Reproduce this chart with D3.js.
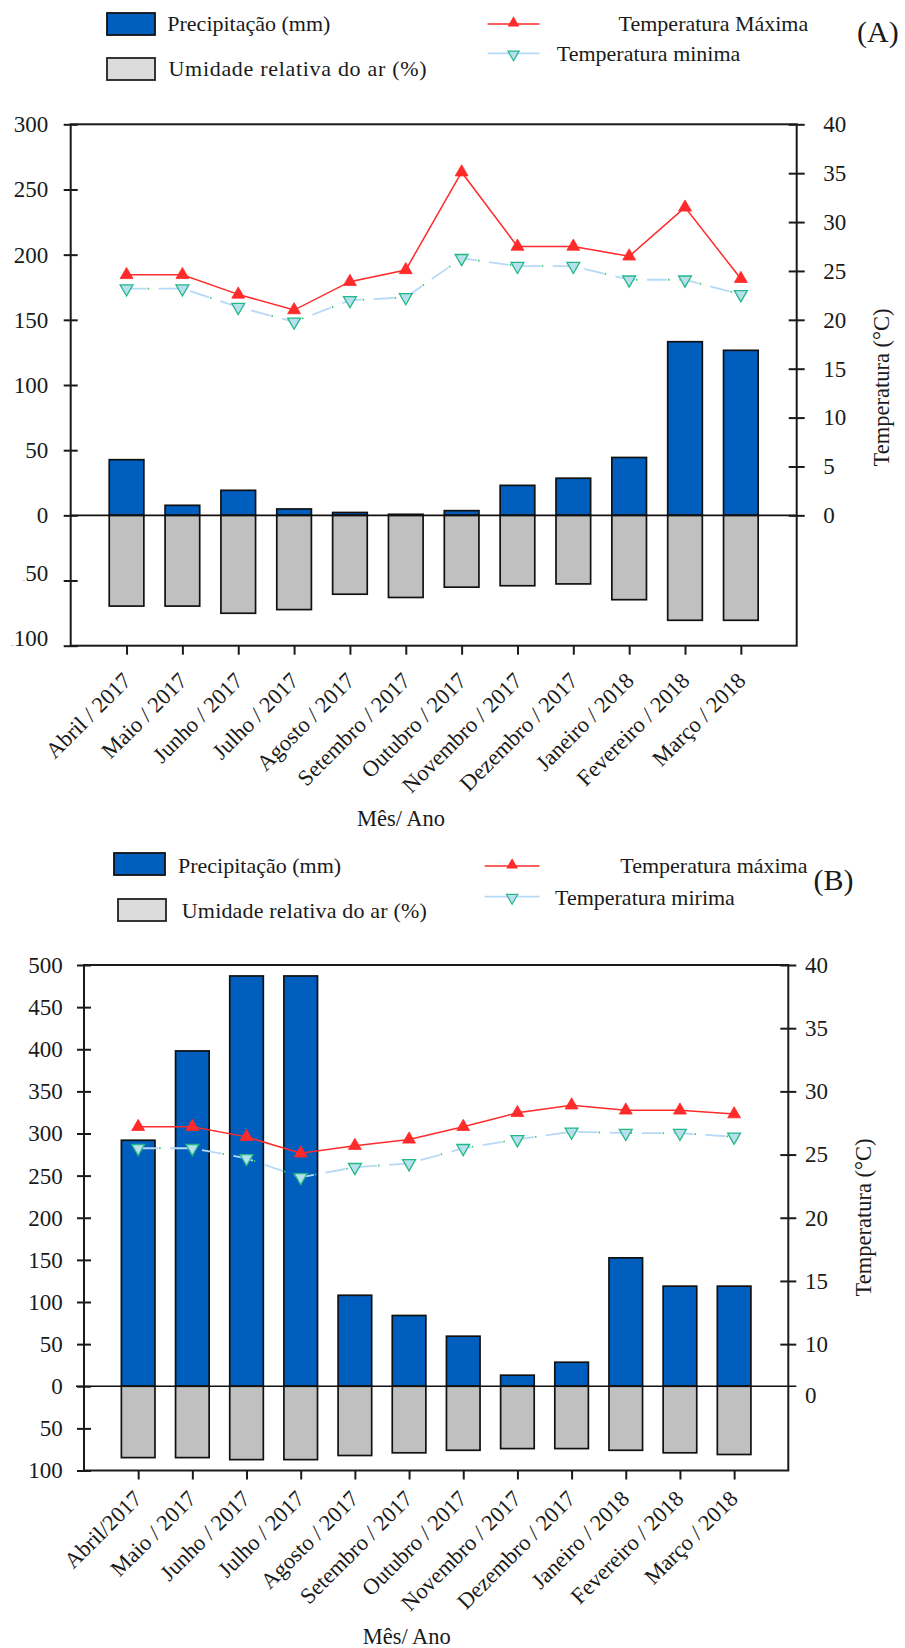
<!DOCTYPE html>
<html>
<head>
<meta charset="utf-8">
<script src="https://cdn.jsdelivr.net/npm/d3@7"></script>
<style>
  body { margin: 0; background: #fff; }
  svg text { font-family: "Liberation Serif", "Times New Roman", serif; fill: #1a1a1a; }
</style>
</head>
<body>
<svg id="chart" width="905" height="1648"></svg>
<script>
// ---- Data: panel (A) ----
const monthsA = ["Abril / 2017", "Maio / 2017", "Junho / 2017", "Julho / 2017", "Agosto / 2017", "Setembro / 2017",
  "Outubro / 2017", "Novembro / 2017", "Dezembro / 2017", "Janeiro / 2018", "Fevereiro / 2018", "Março / 2018"];
const precipA   = [42.7, 7.7, 19.2, 4.9, 2.2, 0.8, 3.6, 23.0, 28.5, 44.4, 133.2, 126.6];   // mm
const humidityA = [69.6, 69.6, 75.1, 72.3, 60.5, 63.0, 55.1, 54.0, 52.6, 64.7, 80.5, 80.5]; // %
const tmaxA     = [24.6, 24.6, 22.6, 21.0, 23.9, 25.1, 35.1, 27.5, 27.5, 26.5, 31.5, 24.2]; // °C
const tminA     = [23.2, 23.2, 21.3, 19.8, 22.0, 22.3, 26.3, 25.5, 25.5, 24.1, 24.1, 22.6]; // °C
const leftTicksA = [-100, -50, 0, 50, 100, 150, 200, 250, 300];
const tempTicksA = [0, 5, 10, 15, 20, 25, 30, 35, 40];

// ---- Data: panel (B) ----
const monthsB = ["Abril/2017", "Maio / 2017", "Junho / 2017", "Julho / 2017", "Agosto / 2017", "Setembro / 2017",
  "Outubro / 2017", "Novembro / 2017", "Dezembro / 2017", "Janeiro / 2018", "Fevereiro / 2018", "Março / 2018"];
const precipB   = [292, 398, 487, 487, 108, 84, 59.4, 13.1, 28.5, 152.4, 118.8, 118.8];
const humidityB = [84.7, 84.7, 87.1, 87.1, 82.2, 79.0, 76.0, 74.0, 74.0, 76.0, 79.0, 81.0];
const tmaxB     = [27.2, 27.2, 26.4, 25.1, 25.7, 26.2, 27.2, 28.3, 28.9, 28.5, 28.5, 28.2];
const tminB     = [25.5, 25.5, 24.7, 23.2, 24.0, 24.3, 25.5, 26.2, 26.8, 26.7, 26.7, 26.4];
const leftTicksB = [-100, -50, 0, 50, 100, 150, 200, 250, 300, 350, 400, 450, 500];
const tempTicksB = [10, 15, 20, 25, 30, 35, 40];

// ---- Legend labels ----
const legendA = { rain: "Precipitação (mm)", hum: "Umidade relativa do ar (%)", tmax: "Temperatura Máxima", tmin: "Temperatura minima", tag: "(A)" };
const legendB = { rain: "Precipitação (mm)", hum: "Umidade relativa do ar (%)", tmax: "Temperatura máxima", tmin: "Temperatura mirima", tag: "(B)" };

const BLUE = "#005EBE", GREY = "#C0C0C0", RED = "#FF2A2A", LIGHTBLUE = "#B6D9F7", TEAL = "#22B888";

const svg = d3.select("#chart");

function drawPanel(p) {
  const g = svg.append("g");
  const x = d3.scalePoint().domain(p.months).range([p.left, p.right]).padding(1);
  const y = d3.scaleLinear().domain(p.yDomain).range([p.bottom, p.top]);
  const t = d3.scaleLinear().domain([0, 40]).range(p.tempAligned ? [y(0), y(p.yDomain[1])] : [p.bottom, p.top]);
  const bw = x.step() * 0.62;

  // precipitation bars (upwards)
  g.append("g").selectAll("rect").data(p.precip).join("rect")
    .attr("x", (d, i) => x(p.months[i]) - bw / 2)
    .attr("y", d => y(d))
    .attr("width", bw)
    .attr("height", d => y(0) - y(d))
    .attr("fill", BLUE).attr("stroke", "#111").attr("stroke-width", 1.7);

  // relative humidity bars (drawn downwards)
  g.append("g").selectAll("rect").data(p.humidity).join("rect")
    .attr("x", (d, i) => x(p.months[i]) - bw / 2)
    .attr("y", y(0))
    .attr("width", bw)
    .attr("height", d => y(-d) - y(0))
    .attr("fill", GREY).attr("stroke", "#111").attr("stroke-width", 1.7);

  // zero line
  g.append("line")
    .attr("x1", p.left - p.zeroExt[0]).attr("x2", p.right + p.zeroExt[1])
    .attr("y1", y(0)).attr("y2", y(0))
    .attr("stroke", "#111").attr("stroke-width", 1.6);

  // temperature lines
  const line = d3.line().x((d, i) => x(p.months[i])).y(d => t(d));
  g.append("path").datum(p.tmax).attr("d", line)
    .attr("fill", "none").attr("stroke", RED).attr("stroke-width", 1.5);
  g.append("path").datum(p.tmin).attr("d", line)
    .attr("fill", "none").attr("stroke", LIGHTBLUE).attr("stroke-width", 1.8)
    .attr("stroke-dasharray", "20 12");
  g.append("path").datum(p.tmin).attr("d", line)
    .attr("fill", "none").attr("stroke", "#3CC86A").attr("stroke-width", 1.8)
    .attr("stroke-dasharray", "1.5 30.5").attr("stroke-dashoffset", -21);

  const tri = d3.symbol().type(d3.symbolTriangle).size(72);
  g.append("g").selectAll("path").data(p.tmax).join("path")
    .attr("d", tri)
    .attr("transform", (d, i) => `translate(${x(p.months[i])},${t(d)})`)
    .attr("fill", RED).attr("stroke", RED).attr("stroke-width", 0.8);
  g.append("g").selectAll("path").data(p.tmin).join("path")
    .attr("d", tri)
    .attr("transform", (d, i) => `translate(${x(p.months[i])},${t(d)}) rotate(180)`)
    .attr("fill", "#B8DFEE").attr("stroke", TEAL).attr("stroke-width", 1.3);

  // frame
  g.append("rect")
    .attr("x", p.left).attr("y", p.top)
    .attr("width", p.right - p.left).attr("height", p.bottom - p.top)
    .attr("fill", "none").attr("stroke", "#1a1a1a").attr("stroke-width", 2);

  // left axis (precipitation / humidity)
  const la = g.append("g").attr("transform", `translate(${p.left},0)`)
    .call(d3.axisLeft(y).tickValues(p.leftTicks).tickSizeInner(7).tickSizeOuter(0).tickPadding(p.leftPad)
      .tickFormat(d => p.negLabel(d)));
  la.select(".domain").remove();
  la.selectAll(".tick line").attr("x1", 7).attr("stroke", "#1a1a1a").attr("stroke-width", 2);
  la.selectAll(".tick text").attr("font-size", 23).attr("font-family", null).attr("fill", null);
  if (p.blueMinus) {
    la.selectAll(".tick text").filter(d => d < 0).each(function (d) {
      const s = d3.select(this).text("");
      s.append("tspan").attr("font-size", 9).attr("fill", "#8DB9E3").attr("dy", "0.2em").text("-");
      s.append("tspan").attr("dy", "-0.08em").text(Math.abs(d));
    });
  }

  // right axis (temperature)
  const ra = g.append("g").attr("transform", `translate(${p.right},0)`)
    .call(d3.axisRight(t).tickValues(p.tempTicks).tickSizeInner(8).tickSizeOuter(0).tickPadding(p.rightPad));
  ra.select(".domain").remove();
  ra.selectAll(".tick line").attr("x1", -8).attr("stroke", "#1a1a1a").attr("stroke-width", 2);
  ra.selectAll(".tick text").attr("font-size", 23).attr("font-family", null).attr("fill", null);
  if (p.extraZero) {
    ra.append("text").attr("x", 8 + p.rightPad).attr("y", y(0) + 9).attr("dy", "0.32em")
      .attr("font-size", 23).text("0");
  }

  // bottom axis with rotated month labels
  const ba = g.append("g").attr("transform", `translate(0,${p.bottom})`)
    .call(d3.axisBottom(x).tickSizeInner(9).tickSizeOuter(0).tickFormat(""));
  ba.select(".domain").remove();
  ba.selectAll(".tick line").attr("stroke", "#1a1a1a").attr("stroke-width", 2);
  g.append("g").selectAll("text").data(p.months).join("text")
    .attr("transform", d => `translate(${x(d) + p.labelDx},${p.labelY}) rotate(-45)`)
    .attr("text-anchor", "end").attr("font-size", 22.5).text(d => d);

  // axis titles
  g.append("text").attr("x", p.xTitle[0]).attr("y", p.xTitle[1])
    .attr("text-anchor", "middle").attr("font-size", 22.5).text("Mês/ Ano");
  g.append("text")
    .attr("transform", `translate(${p.yTitle[0]},${p.yTitle[1]}) rotate(-90)`)
    .attr("text-anchor", "middle").attr("dy", "0.32em").attr("font-size", 22.5).text("Temperatura (°C)");

  // legend
  const L = p.legend, lg = g.append("g");
  lg.append("rect").attr("x", L.rainBox[0]).attr("y", L.rainBox[1]).attr("width", L.rainBox[2]).attr("height", L.rainBox[3])
    .attr("fill", BLUE).attr("stroke", "#111").attr("stroke-width", 1.8);
  lg.append("rect").attr("x", L.humBox[0]).attr("y", L.humBox[1]).attr("width", L.humBox[2]).attr("height", L.humBox[3])
    .attr("fill", "#DCDCDC").attr("stroke", "#222").attr("stroke-width", 1.8);
  lg.append("text").attr("x", L.rainText[0]).attr("y", L.rainText[1]).attr("font-size", 22).text(p.labels.rain);
  lg.append("text").attr("x", L.humText[0]).attr("y", L.humText[1]).attr("font-size", 22)
    .attr("textLength", L.humLen).attr("lengthAdjust", "spacing").text(p.labels.hum);
  lg.append("line").attr("x1", L.lineX[0]).attr("x2", L.lineX[1]).attr("y1", L.maxY).attr("y2", L.maxY)
    .attr("stroke", RED).attr("stroke-width", 1.5);
  lg.append("path").attr("d", d3.symbol().type(d3.symbolTriangle).size(60))
    .attr("transform", `translate(${(L.lineX[0] + L.lineX[1]) / 2},${L.maxY - 1})`).attr("fill", RED);
  lg.append("line").attr("x1", L.lineX[0]).attr("x2", L.lineX[1]).attr("y1", L.minY).attr("y2", L.minY)
    .attr("stroke", LIGHTBLUE).attr("stroke-width", 1.8);
  lg.append("path").attr("d", d3.symbol().type(d3.symbolTriangle).size(55))
    .attr("transform", `translate(${(L.lineX[0] + L.lineX[1]) / 2},${L.minY + 1}) rotate(180)`)
    .attr("fill", "#B8DFEE").attr("stroke", TEAL).attr("stroke-width", 1.2);
  lg.append("text").attr("x", L.maxText[0]).attr("y", L.maxText[1]).attr("font-size", 22).text(p.labels.tmax);
  lg.append("text").attr("x", L.minText[0]).attr("y", L.minText[1]).attr("font-size", 22).text(p.labels.tmin);
  lg.append("text").attr("x", L.tag[0]).attr("y", L.tag[1]).attr("font-size", 30).text(p.labels.tag);
}

drawPanel({
  months: monthsA, precip: precipA, humidity: humidityA, tmax: tmaxA, tmin: tminA,
  leftTicks: leftTicksA, tempTicks: tempTicksA, labels: legendA,
  left: 70.7, right: 796.7, top: 124.3, bottom: 645.7, yDomain: [-100, 300],
  tempAligned: true, extraZero: false, blueMinus: true,
  negLabel: d => String(d),
  leftPad: 15.4, rightPad: 18.6, zeroExt: [0, 0],
  labelDx: 6, labelY: 682,
  xTitle: [401, 826], yTitle: [881.7, 387.5],
  legend: {
    rainBox: [107, 13, 48, 22], humBox: [107, 58, 48, 22],
    rainText: [167.3, 30.5], humText: [168.5, 75.5], humLen: 258,
    lineX: [487.6, 539.5], maxY: 24, minY: 53.3,
    maxText: [618.6, 30.7], minText: [556.8, 60.7], tag: [857, 41.5]
  }
});

drawPanel({
  months: monthsB, precip: precipB, humidity: humidityB, tmax: tmaxB, tmin: tminB,
  leftTicks: leftTicksB, tempTicks: tempTicksB, labels: legendB,
  left: 84, right: 788.3, top: 965, bottom: 1470.5, yDomain: [-100, 500],
  tempAligned: false, extraZero: true, blueMinus: false,
  negLabel: d => String(Math.abs(d)),
  leftPad: 14.3, rightPad: 8.7, zeroExt: [8, 8],
  labelDx: 5, labelY: 1500,
  xTitle: [406.8, 1644], yTitle: [863.3, 1217.5],
  legend: {
    rainBox: [114, 853, 51, 22], humBox: [118, 899, 48, 22],
    rainText: [178, 873], humText: [181.8, 918], humLen: 245,
    lineX: [484.7, 539.5], maxY: 866, minY: 896.7,
    maxText: [620.3, 873], minText: [555, 905], tag: [813.6, 890]
  }
});
</script>
</body>
</html>
